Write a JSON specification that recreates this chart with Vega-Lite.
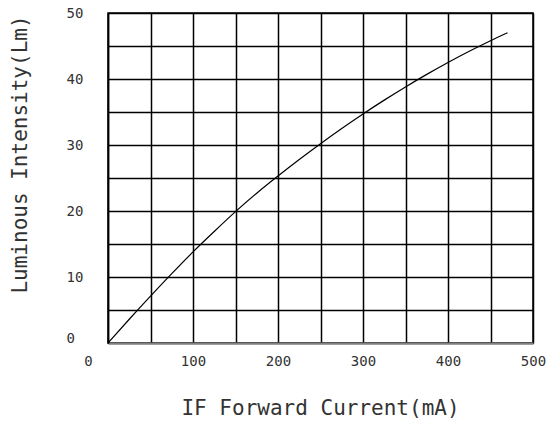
{
  "$schema": "https://vega.github.io/schema/vega-lite/v6.json",
  "autosize": "none",
  "width": 425,
  "height": 330,
  "padding": {"left": 108, "top": 13, "right": 22, "bottom": 78},
  "background": "white",
  "config": {
    "view": {"stroke": "black", "strokeWidth": 1.5},
    "axis": {
      "labelFont": "DejaVu Sans Mono",
      "labelFontSize": 14,
      "labelColor": "#333",
      "labelFlush": false,
      "titleFont": "DejaVu Sans Mono",
      "titleFontSize": 21,
      "titleFontWeight": "normal",
      "titleColor": "#333",
      "gridColor": "black",
      "gridWidth": 1.5,
      "gridOpacity": 1,
      "ticks": false,
      "tickSize": 0
    }
  },
  "data": {
    "values": [
      {"current": 0, "lum": 0},
      {"current": 25, "lum": 3.6},
      {"current": 50, "lum": 7.1},
      {"current": 75, "lum": 10.5},
      {"current": 100, "lum": 13.8},
      {"current": 125, "lum": 16.9},
      {"current": 150, "lum": 19.9},
      {"current": 175, "lum": 22.7},
      {"current": 200, "lum": 25.3},
      {"current": 225, "lum": 27.8},
      {"current": 250, "lum": 30.2},
      {"current": 275, "lum": 32.5},
      {"current": 300, "lum": 34.7},
      {"current": 325, "lum": 36.8},
      {"current": 350, "lum": 38.8},
      {"current": 375, "lum": 40.7},
      {"current": 400, "lum": 42.5},
      {"current": 425, "lum": 44.2},
      {"current": 450, "lum": 45.8},
      {"current": 470, "lum": 47.0}
    ]
  },
  "mark": {"type": "line", "color": "black", "strokeWidth": 1.2, "interpolate": "monotone"},
  "encoding": {
    "x": {
      "field": "current",
      "type": "quantitative",
      "scale": {"domain": [0, 500], "nice": false},
      "axis": {
        "title": "IF Forward Current(mA)",
        "values": [0, 50, 100, 150, 200, 250, 300, 350, 400, 450, 500],
        "labelExpr": "datum.value % 100 == 0 ? datum.label : ''",
        "labelPadding": 11,
        "labelOffset": {"condition": {"test": "datum.value == 0", "value": -20}, "value": 0},
        "domainColor": "#808080",
        "domainWidth": 2,
        "titleX": 212,
        "titleY": 65,
        "titleBaseline": "middle",
        "titleAlign": "center"
      }
    },
    "y": {
      "field": "lum",
      "type": "quantitative",
      "scale": {"domain": [0, 50], "nice": false},
      "axis": {
        "title": "Luminous Intensity(Lm)",
        "values": [0, 5, 10, 15, 20, 25, 30, 35, 40, 45, 50],
        "labelExpr": "datum.value % 10 == 0 ? datum.label : ''",
        "labelAlign": "left",
        "labelPadding": 42,
        "labelOffset": {"condition": {"test": "datum.value == 0", "value": -5}, "value": 0},
        "domainColor": "black",
        "domainWidth": 1.5,
        "titleAngle": -90,
        "titleX": -88,
        "titleY": 141,
        "titleBaseline": "middle",
        "titleAlign": "center"
      }
    }
  }
}
